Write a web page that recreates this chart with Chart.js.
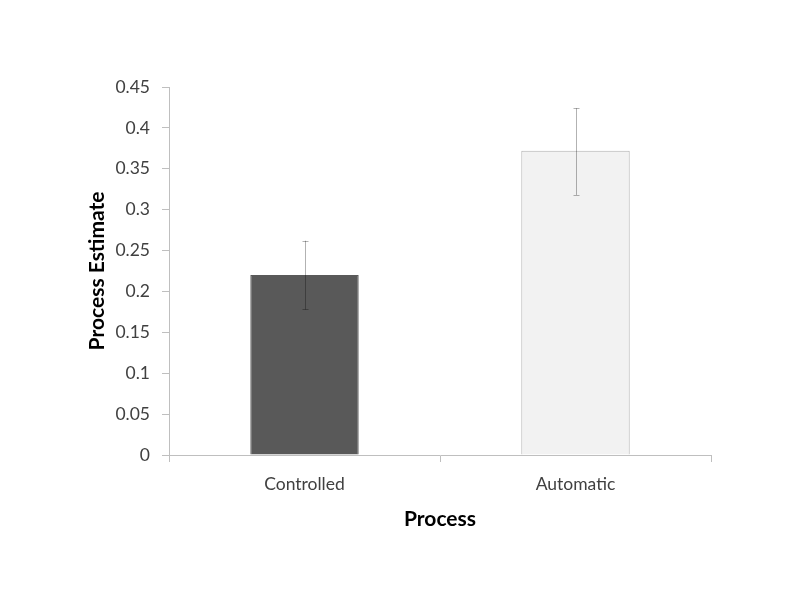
<!DOCTYPE html>
<html>
<head>
<meta charset="utf-8">
<script src="https://cdn.jsdelivr.net/npm/chart.js@4"></script>
<style>
  html, body { margin: 0; padding: 0; background: #fff; }
  #wrap { width: 792px; height: 612px; }
</style>
</head>
<body>
<div id="wrap"><canvas id="c" width="792" height="612"></canvas></div>
<script>
const categories = ["Controlled", "Automatic"];
const estimates = [0.220, 0.372];
const errLow = [0.178, 0.318];
const errHigh = [0.262, 0.424];
const yTicks = [0, 0.05, 0.1, 0.15, 0.2, 0.25, 0.3, 0.35, 0.4, 0.45];

const FONT = "Lato, 'Open Sans', sans-serif";

const errorBars = {
  id: 'errorBars',
  afterDatasetsDraw(chart) {
    const ctx = chart.ctx;
    const meta = chart.getDatasetMeta(0);
    const y = chart.scales.y;
    ctx.save();
    ctx.strokeStyle = 'rgba(0,0,0,0.3)';
    ctx.lineWidth = 1;
    meta.data.forEach((bar, i) => {
      const x = Math.round(bar.x) + 0.5;
      const yl = y.getPixelForValue(errLow[i]);
      const yh = y.getPixelForValue(errHigh[i]);
      ctx.beginPath();
      ctx.moveTo(x, yh); ctx.lineTo(x, yl);
      ctx.moveTo(x - 3, Math.round(yh) + 0.5); ctx.lineTo(x + 3, Math.round(yh) + 0.5);
      ctx.moveTo(x - 3, Math.round(yl) + 0.5); ctx.lineTo(x + 3, Math.round(yl) + 0.5);
      ctx.stroke();
    });
    ctx.restore();
  }
};

new Chart(document.getElementById('c'), {
  type: 'bar',
  data: {
    labels: categories,
    datasets: [{
      data: estimates,
      backgroundColor: ['#595959', '#f2f2f2'],
      borderColor: ['#595959', '#b0b0b0'],
      borderWidth: 1,
      categoryPercentage: 1.0,
      barPercentage: 0.4
    }]
  },
  options: {
    responsive: false,
    animation: false,
    layout: { padding: { top: 87, right: 81, left: 0, bottom: 0 } },
    plugins: { legend: { display: false }, tooltip: { enabled: false } },
    scales: {
      x: {
        grid: { drawOnChartArea: false, offset: true, color: '#bfbfbf', tickLength: 7 },
        border: { color: '#bfbfbf' },
        ticks: { color: '#404040', font: { family: FONT, size: 17.5 }, padding: 12 },
        title: { display: true, text: 'Process', color: '#000',
                 font: { family: FONT, size: 21, weight: 'bold' },
                 padding: { top: 0, bottom: 80 } },
        afterFit(s) { s.height = 157; }
      },
      y: {
        min: 0, max: 0.45,
        afterBuildTicks(s) { s.ticks = yTicks.map(v => ({ value: v })); },
        grid: { drawOnChartArea: false, color: '#bfbfbf', tickLength: 7 },
        border: { color: '#bfbfbf' },
        ticks: { color: '#404040', font: { family: FONT, size: 17.5 }, padding: 12,
                 callback: v => String(+Number(v).toFixed(2)) },
        title: { display: true, text: 'Process Estimate', color: '#000',
                 font: { family: FONT, size: 21, weight: 'bold' },
                 padding: { top: 85, bottom: 0 } },
        afterFit(s) { s.width = 169; }
      }
    }
  },
  plugins: [errorBars]
});
</script>
</body>
</html>
